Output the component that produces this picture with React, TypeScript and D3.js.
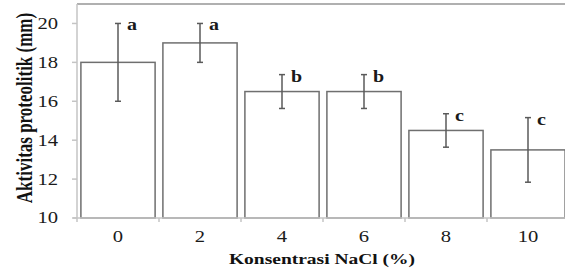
import React from 'react';
import * as d3 from 'd3';

// NaCl concentration (%) categories and measured proteolytic activity (mm)
const categories = ['0', '2', '4', '6', '8', '10'];
const means = [18, 19, 16.5, 16.5, 14.5, 13.5];
const errors = [2, 1, 0.87, 0.87, 0.86, 1.66];
const letters = ['a', 'a', 'b', 'b', 'c', 'c'];
const yTicks = [10, 12, 14, 16, 18, 20];

const W = 565;
const H = 273;
const margin = { left: 77, top: 4, right: -4, bottom: 55 };
const SX = 1.25; // the source picture is stretched sideways
const FONT = '"Liberation Serif", "Times New Roman", serif';

export default function App() {
  const x = d3.scaleBand<string>()
    .domain(categories)
    .range([margin.left, W - margin.right])
    .padding(0);
  const y = d3.scaleLinear()
    .domain([10, 21])
    .range([H - margin.bottom, margin.top]);

  const step = x.step();
  const barW = step * 0.905;
  const base = y(10);
  const cap = 3;

  const boundaries = d3.range(categories.length + 1).map(i => margin.left + i * step);

  return (
    <svg width={W} height={H} style={{ position: 'absolute', left: 0, top: 0, background: '#fff' }}
      fontFamily={FONT}>
      {/* frame top */}
      <line x1={margin.left} x2={W} y1={margin.top} y2={margin.top} stroke="#b0b0b0" strokeWidth={2} />

      {/* bars */}
      {categories.map((c, i) => {
        const cx = (x(c) as number) + step / 2;
        return (
          <rect key={'b' + c} x={cx - barW / 2} y={y(means[i])} width={barW} height={base - y(means[i])}
            fill="#fff" stroke="#6f6f6f" strokeWidth={1.5} />
        );
      })}

      {/* axes */}
      <line x1={margin.left} x2={margin.left} y1={margin.top} y2={base} stroke="#c4c4c4" strokeWidth={1.5} />
      <line x1={margin.left - 4} x2={W} y1={base} y2={base} stroke="#c4c4c4" strokeWidth={1.5} />
      {yTicks.map(t => (
        <g key={'yt' + t}>
          <line x1={margin.left - 5} x2={margin.left} y1={y(t)} y2={y(t)} stroke="#c4c4c4" strokeWidth={1.5} />
          <text transform={`translate(${margin.left - 19},${y(t)}) scale(${SX},1)`} dy="0.33em"
            textAnchor="end" fontSize={16.5} fill="#1a1a1a">{t}</text>
        </g>
      ))}
      {boundaries.map((bx, i) => (
        <line key={'xt' + i} x1={bx} x2={bx} y1={base} y2={base + 4} stroke="#c4c4c4" strokeWidth={1.5} />
      ))}
      {categories.map(c => (
        <text key={'xl' + c} transform={`translate(${(x(c) as number) + step / 2},242) scale(${SX},1)`}
          textAnchor="middle" fontSize={16.5} fill="#1a1a1a">{c}</text>
      ))}

      {/* error bars and letters */}
      {categories.map((c, i) => {
        const cx = (x(c) as number) + step / 2;
        const hi = y(means[i] + errors[i]);
        const lo = y(means[i] - errors[i]);
        return (
          <g key={'e' + c} stroke="#5a5a5a" strokeWidth={1.5}>
            <line x1={cx} x2={cx} y1={hi} y2={lo} />
            <line x1={cx - cap} x2={cx + cap} y1={hi} y2={hi} />
            <line x1={cx - cap} x2={cx + cap} y1={lo} y2={lo} />
            <text transform={`translate(${cx + 9},${hi + 7}) scale(${SX},1)`} stroke="none"
              fontSize={16} fontWeight="bold" fill="#1a1a1a">{letters[i]}</text>
          </g>
        );
      })}

      {/* titles */}
      <text transform={`translate(322,264) scale(1.3,1)`} textAnchor="middle" fontSize={15}
        fontWeight="bold" fill="#111">Konsentrasi NaCl (%)</text>
      <text transform={`translate(31.5,108) scale(1.3,1) rotate(-90)`} textAnchor="middle" fontSize={17}
        fontWeight="bold" fill="#111">Aktivitas proteolitik (mm)</text>
    </svg>
  );
}
